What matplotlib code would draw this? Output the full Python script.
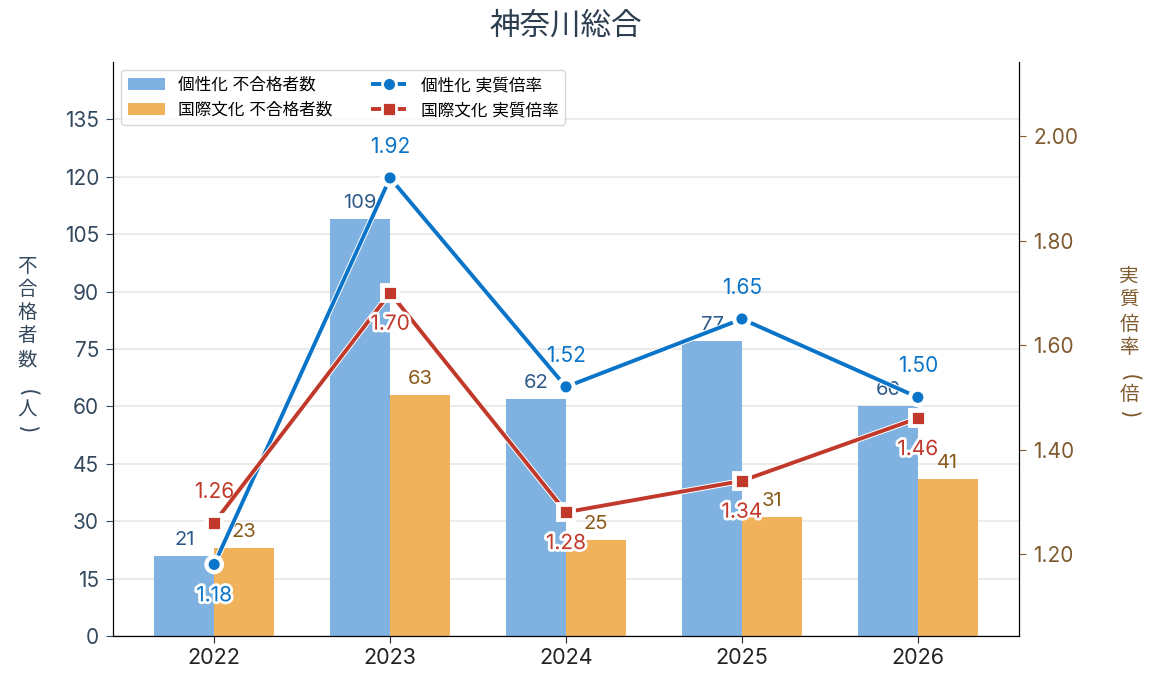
import numpy as np
import matplotlib
matplotlib.use("Agg")
import matplotlib.pyplot as plt
import matplotlib.patheffects as pe

plt.rcParams['font.family'] = ['Inter', 'Noto Sans CJK JP', 'DejaVu Sans']

years = ["2022", "2023", "2024", "2025", "2026"]
kosei_fail = [21, 109, 62, 77, 60]
kokusai_fail = [23, 63, 25, 31, 41]
kosei_rate = [1.18, 1.92, 1.52, 1.65, 1.50]
kokusai_rate = [1.26, 1.70, 1.28, 1.34, 1.46]
# label placement for rate labels: +1 above, -1 below
kosei_pos = [-1, 1, 1, 1, 1]
kokusai_pos = [1, -1, -1, -1, -1]

c_bar1 = "#7fb2e0"
c_bar2 = "#f0b25a"
c_line1 = "#0a74c9"
c_line2 = "#c0392b"
c_lab1 = "#2c5a8a"
c_lab2 = "#8a5a1a"
c_left = "#34495e"
c_right = "#7f5a2e"

x = np.arange(len(years))
w = 0.34
W, H = 1155, 688

fig = plt.figure(figsize=(W / 100, H / 100), dpi=100)
ax = fig.add_axes([113 / W, 52 / H, 906 / W, 574 / H])
ax2 = ax.twinx()

b1 = ax.bar(x - w / 2, kosei_fail, w, color=c_bar1, label="個性化 不合格者数", zorder=2)
b2 = ax.bar(x + w / 2, kokusai_fail, w, color=c_bar2, label="国際文化 不合格者数", zorder=2)
for xi, v in zip(x, kosei_fail):
    ax.annotate(str(v), (xi - w / 2, v), xytext=(0, 5), textcoords="offset points",
                ha="center", va="bottom", fontsize=14.5, color=c_lab1, zorder=3)
for xi, v in zip(x, kokusai_fail):
    ax.annotate(str(v), (xi + w / 2, v), xytext=(0, 5), textcoords="offset points",
                ha="center", va="bottom", fontsize=14.5, color=c_lab2, zorder=3)

ax.set_ylim(0, 150)
ax.set_yticks(np.arange(0, 136, 15))
ax.set_xlim(-0.575, 4.575)
ax.set_xticks(x)
ax.set_xticklabels(years, fontsize=15.5)
ax.tick_params(axis="y", labelsize=15, colors=c_left, length=5, pad=5)
ax.tick_params(axis="x", colors="#222222", length=5)
ax.grid(axis="y", color="#e6e6e6", lw=1.2, zorder=0)
ax.set_axisbelow(True)
ax.spines["top"].set_visible(False)
ax2.spines["top"].set_visible(False)

l1, = ax2.plot(x, kosei_rate, color=c_line1, lw=2.8, marker="o", ms=10,
               mfc=c_line1, mec="white", mew=2, label="個性化 実質倍率", zorder=4)
l2, = ax2.plot(x, kokusai_rate, color=c_line2, lw=2.8, marker="s", ms=10,
               mfc=c_line2, mec="white", mew=2, label="国際文化 実質倍率", zorder=4)
l1.set_path_effects([pe.Stroke(linewidth=4.2, foreground="white"), pe.Normal()])
l2.set_path_effects([pe.Stroke(linewidth=4.2, foreground="white"), pe.Normal()])

stroke = [pe.withStroke(linewidth=4, foreground="white")]
for vals, poss, col in [(kosei_rate, kosei_pos, c_line1), (kokusai_rate, kokusai_pos, c_line2)]:
    for xi, v, p in zip(x, vals, poss):
        t = ax2.annotate(f"{v:.2f}", (xi, v), xytext=(0, 15 * p), textcoords="offset points",
                         ha="center", va="bottom" if p > 0 else "top", fontsize=15,
                         color=col, zorder=5)
        if p < 0:
            t.set_path_effects(stroke)

ax2.set_ylim(1.043, 2.142)
ax2.set_yticks([1.2, 1.4, 1.6, 1.8, 2.0])
ax2.set_yticklabels(["1.20", "1.40", "1.60", "1.80", "2.00"])
ax2.tick_params(axis="y", labelsize=15, colors=c_right, length=5, pad=5)

# vertical axis titles, one character at a time
left_chars = ["不", "合", "格", "者", "数", "(", "人", ")"]
left_y = [267, 290, 313, 336, 360, 393, 411, 429]
right_chars = ["実", "質", "倍", "率", "(", "倍", ")"]
right_y = [277, 301, 325, 348, 378, 395, 414]
for ch, yy in zip(left_chars, left_y):
    paren = ch in "()"
    fig.text(27 / W, 1 - yy / H, ch, ha="center", va="center",
             fontsize=15 if paren else 14, color=c_left,
             rotation=-90 if paren else 0, rotation_mode="anchor")
for ch, yy in zip(right_chars, right_y):
    paren = ch in "()"
    fig.text(1129 / W, 1 - yy / H, ch, ha="center", va="center",
             fontsize=15 if paren else 14, color=c_right,
             rotation=-90 if paren else 0, rotation_mode="anchor")

fig.text(566 / W, 1 - 27 / H, "神奈川総合", ha="center", va="center", fontsize=22, color="#2c3e50")

handles = [b1, b2, l1, l2]
labels = [h.get_label() for h in handles]
leg = ax2.legend(handles, labels, loc="upper left", ncol=2, fontsize=12,
                 frameon=True, edgecolor="#cccccc", handlelength=2.2,
                 handletextpad=0.8, columnspacing=2.3, labelspacing=0.55)
leg.get_frame().set_linewidth(1.0)
for lh in leg.get_lines():
    lh.set_path_effects([])
    lh.set_linestyle("--")

fig.savefig("out.png", dpi=100)
